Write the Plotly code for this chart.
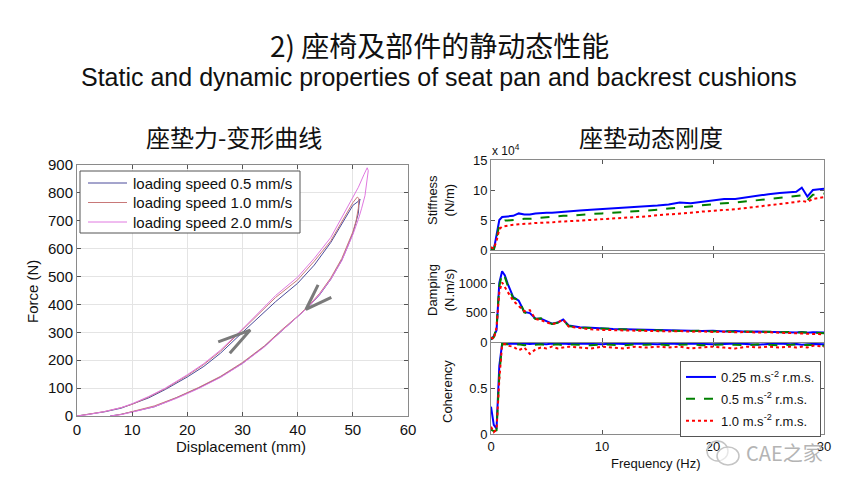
import plotly.graph_objects as go

# ---------------- Left chart: force-deflection loops ----------------
disp_05 = [0, 2, 5, 8, 10, 13, 16, 20, 23, 26, 30, 33, 36, 40, 43, 46, 48, 50, 51.0, 51.3,
           51.1, 51.0, 50.5, 50, 49, 48, 46, 44, 42, 40, 37, 34, 30, 26, 22, 18, 14, 10, 8, 6]
force_05 = [0, 5, 15, 28, 42, 65, 95, 140, 178, 225, 300, 355, 410, 476, 541, 622, 690, 755, 770, 778,
            755, 727, 690, 655, 605, 559, 490, 435, 392, 356, 305, 250, 189, 140, 100, 65, 33, 15, 6, 0]

disp_10 = [0, 2, 5, 8, 10, 13, 16, 20, 23, 26, 30, 33, 36, 40, 43, 46, 48, 50, 50.8, 51.1,
           51.0, 50.6, 50, 49, 48, 46, 44, 42, 40, 37, 34, 30, 26, 22, 18, 14, 10, 8, 6.2]
force_10 = [0, 6, 16, 30, 42, 68, 98, 145, 185, 232, 308, 365, 425, 488, 555, 628, 695, 765, 785, 780,
            745, 700, 660, 612, 565, 495, 440, 395, 358, 307, 252, 192, 142, 102, 66, 36, 16, 6, 0]

disp_20 = [0, 2, 5, 8, 10, 13, 16, 20, 23, 26, 30, 33, 36, 40, 43, 46, 48, 50, 51, 52,
           52.6, 52.8, 52.6, 52.2, 51.6, 51, 50, 49, 48, 46, 44, 42, 40, 37, 34, 30, 26, 22, 18, 14,
           10, 8, 6]
force_20 = [0, 5, 16, 30, 44, 70, 100, 148, 188, 236, 312, 372, 432, 498, 565, 640, 710, 785, 820, 865,
            890, 880, 845, 790, 745, 705, 650, 603, 557, 490, 437, 392, 355, 303, 248, 188, 138, 98, 63, 33,
            14, 5, 0]

left_names = ["loading speed 0.5 mm/s", "loading speed 1.0 mm/s", "loading speed 2.0 mm/s"]
left_colors = ["#4a4a9a", "#c87878", "#e078e0"]

arrow1_x = [25.6, 31.4, 27.7]
arrow1_y = [266, 308, 225]
arrow2_x = [46.1, 41.5, 43.7]
arrow2_y = [425, 382, 470]

# ---------------- Right chart: dynamic stiffness ----------------
freq = [0, 0.25, 0.5, 0.75, 1.0, 1.25, 1.5, 2, 2.5, 3, 3.5, 4, 4.5, 5, 5.5, 6, 6.5, 7, 8, 9, 10,
        11, 12, 13, 14, 15, 16, 17, 18, 19, 20, 21, 22, 23, 24, 25, 26, 27, 27.5, 28, 28.5, 29, 30]

stiff_025 = [0.1, 0.0, 2.5, 5.0, 5.5, 5.6, 5.6, 5.7, 6.1, 5.9, 5.9, 6.1, 6.2, 6.2, 6.2, 6.3, 6.4, 6.5, 6.6, 6.7,
             6.8, 6.9, 7.0, 7.2, 7.3, 7.4, 7.6, 7.9, 7.8, 8.0, 8.2, 8.5, 8.5, 8.8, 9.0, 9.3, 9.5, 9.6, 9.7, 10.4,
             8.9, 10.0, 10.2]
stiff_05 = [0.3, 0.0, 2.0, 4.2, 4.7, 4.9, 4.9, 5.0, 5.2, 5.2, 5.2, 5.3, 5.4, 5.4, 5.5, 5.6, 5.7, 5.7, 5.9, 6.0,
            6.1, 6.2, 6.3, 6.4, 6.6, 6.7, 6.9, 7.1, 7.2, 7.4, 7.6, 7.8, 7.9, 8.1, 8.3, 8.6, 8.8, 8.9, 9.0, 9.1,
            8.3, 9.2, 9.4]
stiff_10 = [0.5, 0.2, 1.5, 3.5, 3.9, 4.0, 4.1, 4.2, 4.3, 4.3, 4.4, 4.5, 4.5, 4.6, 4.6, 4.7, 4.7, 4.8, 4.9, 5.0,
            5.1, 5.2, 5.3, 5.5, 5.6, 5.8, 5.9, 6.1, 6.2, 6.4, 6.5, 6.7, 6.8, 7.0, 7.2, 7.4, 7.6, 7.8, 8.0, 8.2,
            8.0, 8.5, 8.8]

damp_025 = [40, 100, 200, 1000, 1200, 1130, 990, 760, 700, 510, 490, 400, 395, 350, 310, 330, 380, 280, 250, 240,
            225, 220, 215, 210, 205, 200, 195, 200, 190, 185, 190, 180, 185, 175, 178, 170, 172, 165, 160, 170,
            155, 165, 160]
damp_05 = [50, 80, 250, 950, 1160, 1100, 960, 740, 720, 500, 480, 390, 400, 345, 305, 325, 370, 270, 245, 235,
           225, 215, 210, 205, 200, 195, 200, 195, 185, 190, 180, 185, 175, 180, 170, 175, 165, 170, 160, 165,
           160, 155, 150]
damp_10 = [80, 50, 250, 850, 1010, 920, 850, 700, 610, 520, 540, 390, 370, 330, 300, 330, 380, 260, 235, 215,
           205, 200, 195, 190, 185, 190, 180, 185, 175, 180, 170, 175, 165, 170, 160, 165, 160, 150, 155, 145,
           150, 140, 130]

coh_025 = [0.30, 0.10, 0.06, 0.75, 0.99, 0.995, 0.99, 0.995, 0.99, 0.995, 0.99, 0.995, 0.99, 0.985, 0.995, 0.99,
           0.995, 0.99, 0.995, 0.99, 0.985, 0.995, 0.99, 0.995, 0.99, 0.985, 0.995, 0.99, 0.995, 0.99, 0.985, 0.99,
           0.995, 0.99, 0.98, 0.99, 0.995, 0.985, 0.99, 0.98, 0.985, 0.99, 0.985]
coh_05 = [0.05, 0.03, 0.04, 0.65, 0.99, 0.99, 0.985, 0.98, 0.985, 0.975, 0.985, 0.98, 0.985, 0.975, 0.98, 0.985,
          0.975, 0.985, 0.98, 0.975, 0.985, 0.98, 0.975, 0.985, 0.98, 0.985, 0.975, 0.98, 0.985, 0.975, 0.98, 0.985,
          0.98, 0.975, 0.985, 0.98, 0.975, 0.98, 0.985, 0.975, 0.98, 0.975, 0.97]
coh_10 = [0.08, 0.02, 0.05, 0.60, 0.98, 0.99, 0.97, 0.96, 0.92, 0.95, 0.88, 0.93, 0.95, 0.94, 0.96, 0.94,
          0.95, 0.96, 0.95, 0.94, 0.96, 0.95, 0.94, 0.96, 0.95, 0.96, 0.95, 0.96, 0.94, 0.95, 0.96, 0.95,
          0.94, 0.96, 0.95, 0.96, 0.95, 0.96, 0.95, 0.96, 0.95, 0.97, 0.96]

right_names = ["0.25 m.s<sup>-2</sup> r.m.s.", "0.5 m.s<sup>-2</sup> r.m.s.", "1.0 m.s<sup>-2</sup> r.m.s."]
right_colors = ["#0000ff", "#008000", "#ff0000"]
right_dash = ["solid", "dash", "dot"]

left_ticks_x = [0, 10, 20, 30, 40, 50, 60]
left_ticks_y = [0, 100, 200, 300, 400, 500, 600, 700, 800, 900]
freq_ticks = [0, 10, 20, 30]
stiff_ticks = [0, 5, 10, 15]
damp_ticks = [0, 500, 1000]
coh_ticks = [0, 0.5]

W, H = 852, 490
LAT = "Liberation Sans, Arial, sans-serif"
CJK = "Noto Sans CJK SC, sans-serif"


def px(x):
    return x / W


def py(y):
    return 1 - y / H


fig = go.Figure()

for xs, ys, nm, col in zip([disp_05, disp_10, disp_20], [force_05, force_10, force_20], left_names, left_colors):
    fig.add_trace(go.Scatter(x=xs, y=ys, mode="lines", name=nm, line=dict(color=col, width=1),
                             xaxis="x", yaxis="y", showlegend=False))

for ax, ay in [(arrow1_x, arrow1_y), (arrow2_x, arrow2_y)]:
    fig.add_trace(go.Scatter(x=ax, y=ay, mode="lines", line=dict(color="#7a7a7a", width=3),
                             showlegend=False, xaxis="x", yaxis="y", hoverinfo="skip"))

series = [(stiff_025, damp_025, coh_025), (stiff_05, damp_05, coh_05), (stiff_10, damp_10, coh_10)]
for i, (s, d, c) in enumerate(series):
    ln = dict(color=right_colors[i], width=2, dash=right_dash[i])
    fig.add_trace(go.Scatter(x=freq, y=s, mode="lines", line=ln, showlegend=False, xaxis="x2", yaxis="y2"))
    fig.add_trace(go.Scatter(x=freq, y=d, mode="lines", line=ln, showlegend=False, xaxis="x3", yaxis="y3"))
    fig.add_trace(go.Scatter(x=freq, y=c, mode="lines", line=ln, name=right_names[i], legend="legend2",
                             legendgroup="g%d" % i, xaxis="x4", yaxis="y4"))


def axis(size=13, **kw):
    d = dict(showline=True, linecolor="#8a8a8a", linewidth=1, mirror="ticks", ticks="inside",
             ticklen=4, tickcolor="#555", zeroline=False, automargin=False,
             tickfont=dict(family=LAT, size=size, color="#111"))
    d.update(kw)
    return d


rx_dom = [px(491), px(824)]

fig.update_layout(
    width=W, height=H, autosize=False,
    margin=dict(l=0, r=0, t=0, b=0, autoexpand=False),
    paper_bgcolor="white", plot_bgcolor="white",
    xaxis=axis(15, domain=[px(77), px(408)], range=[0, 60], tickvals=left_ticks_x, anchor="y",
               showgrid=True, gridcolor="#e4e4e4"),
    yaxis=axis(15, domain=[py(416), py(165)], range=[0, 900], tickvals=left_ticks_y, anchor="x",
               showgrid=True, gridcolor="#e4e4e4"),
    xaxis2=axis(domain=rx_dom, range=[0, 30], tickvals=freq_ticks, showticklabels=False, anchor="y2",
                showgrid=False),
    yaxis2=axis(domain=[py(250), py(160)], range=[0, 15], tickvals=stiff_ticks, anchor="x2", showgrid=False),
    xaxis3=axis(domain=rx_dom, range=[0, 30], tickvals=freq_ticks, showticklabels=False, anchor="y3",
                showgrid=False),
    yaxis3=axis(domain=[py(342), py(253.5)], range=[0, 1500], tickvals=damp_ticks, anchor="x3", showgrid=False),
    xaxis4=axis(domain=rx_dom, range=[0, 30], tickvals=freq_ticks, anchor="y4", showgrid=False),
    yaxis4=axis(domain=[py(434), py(343)], range=[0, 1], tickvals=coh_ticks, anchor="x4", showgrid=False),
    legend2=dict(x=px(680), y=py(361), xanchor="left", yanchor="top", bgcolor="white",
                 bordercolor="#555", borderwidth=1, font=dict(family=LAT, size=13, color="#111"),
                 tracegroupgap=2, traceorder="grouped"),
    showlegend=True,
)

ann = []


def add_text(text, x, y, size, family=LAT, angle=0, color="#111", xanchor="center"):
    ann.append(dict(text=text, x=px(x), y=py(y), xref="paper", yref="paper", showarrow=False,
                    font=dict(family=family, size=size, color=color), textangle=angle,
                    xanchor=xanchor, yanchor="middle"))


add_text("2) 座椅及部件的静动态性能", 439, 45, 28, family=CJK)
add_text("Static and dynamic properties of seat pan and backrest cushions", 439, 77, 25)
add_text("座垫力-变形曲线", 234, 136, 24, family=CJK)
add_text("座垫动态刚度", 651, 136, 24, family=CJK)
add_text("Displacement (mm)", 241, 446, 15)
add_text("Force (N)", 32, 292, 15, angle=-90)
add_text("Frequency (Hz)", 656, 463, 13)
add_text("Stiffness<br>(N/m)", 441, 200, 13, angle=-90)
add_text("Damping<br>(N.m/s)", 441, 290, 13, angle=-90)
add_text("Coherency", 447, 392, 13, angle=-90)
add_text("x 10<sup>4</sup>", 490, 150, 12, xanchor="left")
add_text("CAE之家", 784, 452, 20, family=CJK, color="#b4b4b4")

# left-chart legend (box, line samples, labels) built from the legend lists
fig.add_shape(type="rect", xref="paper", yref="paper", x0=px(80), x1=px(300), y0=py(233), y1=py(171),
              line=dict(color="#555", width=1), fillcolor="white", layer="above")
for k, (nm, col) in enumerate(zip(left_names, left_colors)):
    yy = 183 + 19.5 * k
    fig.add_shape(type="line", xref="paper", yref="paper", x0=px(88), x1=px(127), y0=py(yy), y1=py(yy),
                  line=dict(color=col, width=1), layer="above")
    add_text(nm, 131, yy, 15, xanchor="left")

fig.update_layout(annotations=ann)

# watermark icon (two speech bubbles)
fig.add_shape(type="circle", xref="paper", yref="paper", x0=px(707), x1=px(728), y0=py(461), y1=py(441),
              line=dict(color="#c4c4c4", width=1.5))
fig.add_shape(type="circle", xref="paper", yref="paper", x0=px(717), x1=px(739), y0=py(465), y1=py(447),
              line=dict(color="#c4c4c4", width=1.5), fillcolor="rgba(255,255,255,0.6)")

fig.write_html("out.html", config={"displayModeBar": False},
               post_script="document.body.style.margin='0px';")
